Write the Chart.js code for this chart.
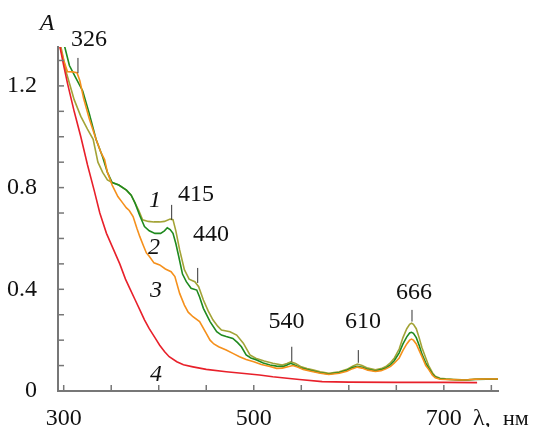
<!DOCTYPE html>
<html>
<head>
<meta charset="utf-8">
<script src="https://cdn.jsdelivr.net/npm/chart.js@4"></script>
<style>
  html, body { margin: 0; padding: 0; background: #fff; }
  canvas { display: block; }
</style>
</head>
<body>
<canvas id="myChart" width="541" height="427"></canvas>
<script>
// wavelength (nm), absorbance
const curve1 = [[295,1.39],[297,1.355],[303,1.25],[311,1.146],[318,1.08],[325,1.03],[331,0.99],[336,0.9],[341,0.86],[346,0.83],
  [351,0.82],[358,0.81],[366,0.79],[371,0.77],[375,0.74],[379,0.71],[383,0.673],[389,0.667],[395,0.665],[401,0.665],
  [406,0.667],[412,0.676],[415,0.674],[418,0.63],[422,0.555],[427,0.477],[432,0.44],[435,0.435],[438,0.43],[442,0.41],
  [447,0.358],[452,0.315],[457,0.28],[462,0.255],[466,0.24],[475,0.233],[482,0.22],[489,0.188],[496,0.142],
  [502,0.129],[511,0.118],[520,0.109],[530,0.102],[535,0.108],[539,0.115],[544,0.108],[550,0.095],[556,0.088],[562,0.083],
  [570,0.076],[579,0.07],[590,0.076],[598,0.085],[604,0.097],[609,0.106],[614,0.1],[620,0.09],[628,0.083],[634,0.088],
  [639,0.096],[644,0.112],[648,0.13],[653,0.165],[657,0.21],[661,0.245],[664,0.262],[666,0.267],[668,0.262],[671,0.245],
  [674,0.21],[677,0.17],[681,0.13],[684,0.1],[688,0.072],[691,0.058],[696,0.05],[702,0.048],[710,0.046],[719,0.044],
  [726,0.045],[733,0.047],[745,0.048],[757,0.048]];
const curve2 = [[299,1.39],[301,1.355],[306,1.28],[313,1.23],[320,1.18],[327,1.09],[334,0.99],[341,0.92],[346,0.86],[351,0.82],
  [358,0.81],[366,0.79],[371,0.77],[375,0.74],[380,0.69],[385,0.647],[390,0.63],[396,0.62],[402,0.62],[406,0.63],
  [409,0.642],[412,0.635],[415,0.62],[418,0.58],[421,0.53],[425,0.46],[429,0.43],[434,0.404],[440,0.397],[443,0.37],
  [447,0.325],[454,0.273],[461,0.233],[466,0.22],[471,0.214],[478,0.207],[483,0.19],[487,0.174],[492,0.142],[497,0.13],
  [503,0.122],[510,0.11],[517,0.102],[524,0.098],[531,0.096],[535,0.102],[539,0.109],[544,0.1],[550,0.09],[556,0.084],
  [562,0.079],[570,0.072],[579,0.067],[590,0.073],[598,0.082],[604,0.092],[609,0.097],[614,0.093],[620,0.085],[628,0.079],
  [634,0.084],[639,0.09],[644,0.104],[648,0.12],[653,0.15],[657,0.185],[661,0.213],[664,0.228],[666,0.231],[668,0.227],
  [671,0.21],[674,0.18],[677,0.145],[681,0.11],[684,0.09],[688,0.066],[691,0.055],[696,0.048],[702,0.046],[710,0.044],
  [719,0.042],[726,0.043],[733,0.045],[745,0.046],[757,0.046]];
const curve3 = [[294,1.4],[296,1.355],[300,1.3],[304,1.256],[309,1.255],[314,1.252],[317,1.22],[321,1.15],[327,1.07],[334,0.99],
  [339,0.94],[343,0.91],[346,0.86],[351,0.81],[357,0.765],[362,0.74],[366,0.72],[369,0.71],[373,0.686],[377,0.64],
  [380,0.608],[384,0.57],[387,0.543],[390,0.53],[395,0.504],[401,0.496],[407,0.48],[413,0.469],[417,0.45],[422,0.384],
  [427,0.338],[431,0.31],[436,0.292],[443,0.273],[450,0.227],[454,0.2],[458,0.185],[463,0.174],[471,0.161],[478,0.148],
  [485,0.135],[492,0.124],[500,0.115],[508,0.104],[517,0.096],[524,0.089],[530,0.09],
  [537,0.096],[541,0.1],[546,0.094],[552,0.085],[560,0.078],[570,0.07],[579,0.065],[590,0.07],[598,0.078],[604,0.088],
  [609,0.094],[614,0.09],[620,0.082],[628,0.077],[634,0.08],[639,0.087],[644,0.097],[648,0.11],[653,0.13],[657,0.16],
  [661,0.185],[664,0.2],[666,0.204],[668,0.2],[671,0.185],[674,0.16],[677,0.135],[681,0.1],[684,0.085],[688,0.062],
  [691,0.052],[696,0.046],[702,0.045],[710,0.044],[719,0.043],[726,0.044],[733,0.046],[745,0.047],[757,0.047]];
const curve4 = [[294,1.39],[296,1.355],[300,1.28],[304,1.21],[311,1.1],[318,1.0],[325,0.89],[332,0.79],[338,0.7],[345,0.62],
  [352,0.56],[359,0.5],[365,0.44],[370,0.4],[375,0.36],[380,0.32],[385,0.28],[390,0.245],[396,0.21],[401,0.18],
  [406,0.155],[411,0.135],[419,0.115],[426,0.103],[436,0.095],[450,0.085],[471,0.076],[490,0.069],[506,0.063],[520,0.056],
  [535,0.05],[548,0.045],[572,0.037],[600,0.035],[650,0.034],[700,0.034],[735,0.033]];

const curveNames = ["1", "2", "3", "4"];
const curveColors = ["#a3a336", "#1f8a1f", "#f5901c", "#e8202a"];
const peakWavelengths = [315, 413.6, 441, 540, 610, 666.5];
const peakLabels = ["326", "415", "440", "540", "610", "666"];
const xLabelValues = [300, 500, 700];

const serif = '"Liberation Serif", "Times New Roman", serif';

// marker tick span and label centre for each peak (data units)
const peakMarks = [
  { y0: 1.25, y1: 1.31, lx: 326.6, ly: 1.381 },
  { y0: 0.673, y1: 0.732, lx: 439.2, ly: 0.771 },
  { y0: 0.425, y1: 0.484, lx: 455, ly: 0.614 },
  { y0: 0.115, y1: 0.174, lx: 534.4, ly: 0.271 },
  { y0: 0.111, y1: 0.161, lx: 615, ly: 0.271 },
  { y0: 0.273, y1: 0.319, lx: 668.6, ly: 0.387 }
];
const curveLabelPos = [[396, 0.747], [395, 0.562], [397, 0.393], [397, 0.063]];

const overlay = {
  id: "overlay",
  afterDraw(chart) {
    const ctx = chart.ctx;
    const xs = chart.scales.x;
    const ys = chart.scales.y;
    ctx.save();

    // inward tick marks
    ctx.strokeStyle = "#777";
    ctx.lineWidth = 1.5;
    xs.ticks.forEach((t) => {
      const px = xs.getPixelForValue(t.value);
      ctx.beginPath();
      ctx.moveTo(px, ys.bottom);
      ctx.lineTo(px, ys.bottom - 6);
      ctx.stroke();
    });
    ys.ticks.forEach((t) => {
      const py = ys.getPixelForValue(t.value);
      ctx.beginPath();
      ctx.moveTo(xs.left, py);
      ctx.lineTo(xs.left + 6, py);
      ctx.stroke();
    });

    // peak markers
    ctx.strokeStyle = "#333";
    ctx.lineWidth = 1;
    ctx.fillStyle = "#111";
    ctx.font = "24px " + serif;
    ctx.textAlign = "center";
    ctx.textBaseline = "middle";
    peakWavelengths.forEach((w, i) => {
      const m = peakMarks[i];
      const px = xs.getPixelForValue(w);
      ctx.beginPath();
      ctx.moveTo(px, ys.getPixelForValue(m.y0));
      ctx.lineTo(px, ys.getPixelForValue(m.y1));
      ctx.stroke();
      ctx.fillText(peakLabels[i], xs.getPixelForValue(m.lx), ys.getPixelForValue(m.ly));
    });

    // curve numbers
    ctx.font = "italic 24px " + serif;
    curveNames.forEach((n, i) => {
      ctx.fillText(n, xs.getPixelForValue(curveLabelPos[i][0]), ys.getPixelForValue(curveLabelPos[i][1]));
    });

    // axis titles
    ctx.fillText("A", xs.left - 11, ys.top - 23);
    ctx.textAlign = "left";
    ctx.textBaseline = "alphabetic";
    ctx.font = "24px " + serif;
    ctx.fillText("λ,", xs.right - 25, ys.bottom + 34);
    ctx.font = "22px " + serif;
    ctx.fillText("нм", xs.right + 5, ys.bottom + 34);
    ctx.restore();
  }
};

const datasets = [curve4, curve3, curve2, curve1].map((c, k) => {
  const i = 3 - k;
  return {
    label: curveNames[i],
    data: c.map(([x, y]) => ({ x, y })),
    borderColor: curveColors[i],
    borderWidth: 1.6,
    showLine: true,
    pointRadius: 0,
    tension: 0
  };
});

const ctx = document.getElementById("myChart").getContext("2d");
const myChart = new Chart(ctx, {
  type: "scatter",
  data: { datasets },
  options: {
    responsive: false,
    animation: false,
    devicePixelRatio: 1,
    layout: { padding: { top: 47, right: 43, left: 0, bottom: 0 } },
    plugins: { legend: { display: false }, tooltip: { enabled: false } },
    scales: {
      x: {
        type: "linear",
        min: 294,
        max: 757,
        afterBuildTicks: (s) => { s.ticks = s.ticks.filter((t) => t.value % 50 === 0); },
        afterFit: (s) => { s.height = 36; },
        ticks: {
          stepSize: 50,
          includeBounds: false,
          autoSkip: false,
          maxRotation: 0,
          padding: 5,
          color: "#111",
          font: { family: serif, size: 24 },
          callback: (v) => (xLabelValues.includes(v) ? String(v) : "")
        },
        grid: { display: false },
        border: { display: true, color: "#777", width: 2 }
      },
      y: {
        min: 0,
        max: 1.353,
        afterBuildTicks: (s) => {
          s.ticks = s.ticks.filter((t) => Math.abs(t.value * 10 - Math.round(t.value * 10)) < 1e-6);
        },
        afterFit: (s) => { s.width = 58; },
        ticks: {
          stepSize: 0.1,
          includeBounds: false,
          autoSkip: false,
          padding: 13,
          color: "#111",
          font: { family: serif, size: 24 },
          callback: (v) => {
            const k = Math.round(v * 10);
            if (k % 4 !== 0) return "";
            return k === 0 ? "0" : (k / 10).toFixed(1);
          }
        },
        grid: { display: false },
        border: { display: true, color: "#777", width: 2 }
      }
    }
  },
  plugins: [overlay]
});
</script>
</body>
</html>
